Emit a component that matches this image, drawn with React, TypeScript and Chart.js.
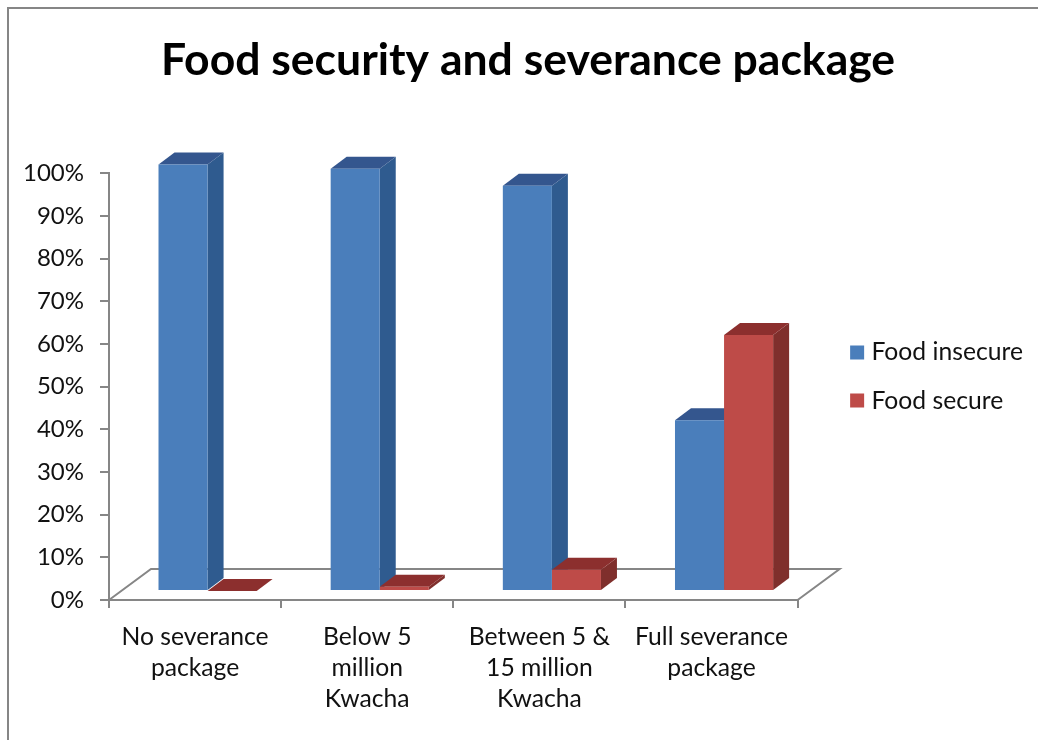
import React, { useEffect, useRef } from "react";
import { Chart, registerables } from "chart.js";

Chart.register(...registerables);

const categories = [
  ["No severance", "package"],
  ["Below 5", "million", "Kwacha"],
  ["Between 5 &", "15 million", "Kwacha"],
  ["Full severance", "package"],
];
const foodInsecure = [100, 99, 95, 40];
const foodSecure = [0, 1, 5, 60];
const FONT = "Lato, 'Open Sans', sans-serif";
const GREY = "#868686";
const INK = "#111111";
const shades = [
  { front: "#4a7ebb", side: "#2f5b8f", top: "#34568e" },
  { front: "#be4b48", side: "#7f2f2c", top: "#8c2f2e" },
];
const BAR_DX = 12.5;
const BAR_DY = -9;
const DEPTH_DX = 16;
const DEPTH_DY = -12;
const FLOOR_DX = 42;
const FLOOR_DY = -31;
const LEGEND_SHIFT_X = 34;
const LEGEND_SHIFT_Y = -5;
const TITLE_SHIFT_X = 25;

const poly = (ctx: CanvasRenderingContext2D, pts: number[][], fill: string) => {
  ctx.beginPath();
  pts.forEach(([x, y], i) => (i ? ctx.lineTo(x, y) : ctx.moveTo(x, y)));
  ctx.closePath();
  ctx.fillStyle = fill;
  ctx.fill();
};

const threeD = {
  id: "threeD",
  afterLayout(chart: any) {
    chart.legend.left += LEGEND_SHIFT_X;
    chart.legend.right += LEGEND_SHIFT_X;
    chart.legend.top += LEGEND_SHIFT_Y;
    chart.legend.bottom += LEGEND_SHIFT_Y;
    chart.titleBlock.left += TITLE_SHIFT_X;
    chart.titleBlock.right += TITLE_SHIFT_X;
  },
  beforeDraw(chart: any) {
    const ctx = chart.ctx;
    ctx.save();
    ctx.strokeStyle = GREY;
    ctx.lineWidth = 2;
    ctx.beginPath();
    ctx.moveTo(8, chart.height);
    ctx.lineTo(8, 8);
    ctx.lineTo(chart.width, 8);
    ctx.stroke();
    ctx.restore();
  },
  beforeDatasetsDraw(chart: any) {
    const ctx = chart.ctx;
    const { left, right, bottom } = chart.chartArea;
    ctx.save();
    ctx.strokeStyle = GREY;
    ctx.lineWidth = 2;
    ctx.beginPath();
    ctx.moveTo(left, bottom);
    ctx.lineTo(left + FLOOR_DX, bottom + FLOOR_DY);
    ctx.lineTo(right + FLOOR_DX, bottom + FLOOR_DY);
    ctx.lineTo(right, bottom);
    ctx.stroke();
    ctx.translate(BAR_DX, BAR_DY);
    chart.data.datasets.forEach((_: any, di: number) => {
      chart.getDatasetMeta(di).data.forEach((bar: any) => {
        const { x, y, base, width } = bar.getProps(["x", "y", "base", "width"], true);
        const l = x - width / 2;
        const r = x + width / 2;
        poly(ctx, [[r, y], [r + DEPTH_DX, y + DEPTH_DY], [r + DEPTH_DX, base + DEPTH_DY], [r, base]], shades[di].side);
        poly(ctx, [[l, y], [l + DEPTH_DX, y + DEPTH_DY], [r + DEPTH_DX, y + DEPTH_DY], [r, y]], shades[di].top);
      });
    });
    ctx.restore();
    ctx.save();
    ctx.translate(BAR_DX, BAR_DY);
  },
  afterDatasetsDraw(chart: any) {
    chart.ctx.restore();
  },
};

export default function App() {
  const ref = useRef<HTMLCanvasElement>(null);
  useEffect(() => {
    const chart = new Chart(ref.current as HTMLCanvasElement, {
      type: "bar",
      data: {
        labels: categories,
        datasets: [
          { label: "Food insecure", data: foodInsecure, backgroundColor: shades[0].front, categoryPercentage: 0.57, barPercentage: 1, clip: false },
          { label: "Food secure", data: foodSecure, backgroundColor: shades[1].front, categoryPercentage: 0.57, barPercentage: 1, clip: false },
        ],
      } as any,
      plugins: [threeD],
      options: {
        responsive: false,
        animation: false,
        layout: { padding: { left: 7, top: 34, right: 39, bottom: 11 } },
        plugins: {
          tooltip: { enabled: false },
          title: {
            display: true,
            text: "Food security and severance package",
            color: "#000",
            font: { family: FONT, size: 44.5, weight: "bold" },
            padding: { top: 0, bottom: 86 },
          },
          legend: {
            position: "right",
            labels: {
              color: INK,
              font: { family: FONT, size: 24.7 },
              usePointStyle: true,
              pointStyle: "rect",
              boxWidth: 4,
              boxHeight: 14,
              padding: 23.5,
            },
          },
        },
        scales: {
          x: {
            grid: { drawOnChartArea: false, color: GREY, lineWidth: 2, tickLength: 8 },
            border: { color: GREY, width: 2 },
            ticks: { color: INK, font: { family: FONT, size: 24.7, lineHeight: 1.255 }, maxRotation: 0, autoSkip: false, padding: 14 },
          },
          y: {
            min: 0,
            max: 100,
            grid: { drawOnChartArea: false, color: GREY, lineWidth: 2, tickLength: 9 },
            border: { color: GREY, width: 2 },
            ticks: { color: INK, font: { family: FONT, size: 24 }, stepSize: 10, padding: 16, callback: (v: any) => v + "%" },
          },
        },
      },
    } as any);
    return () => chart.destroy();
  }, []);
  return (
    <div style={{ position: "fixed", left: 0, top: 0, width: 1038, height: 740, background: "#fff" }}>
      <canvas ref={ref} width={1038} height={740} style={{ display: "block" }} />
    </div>
  );
}
